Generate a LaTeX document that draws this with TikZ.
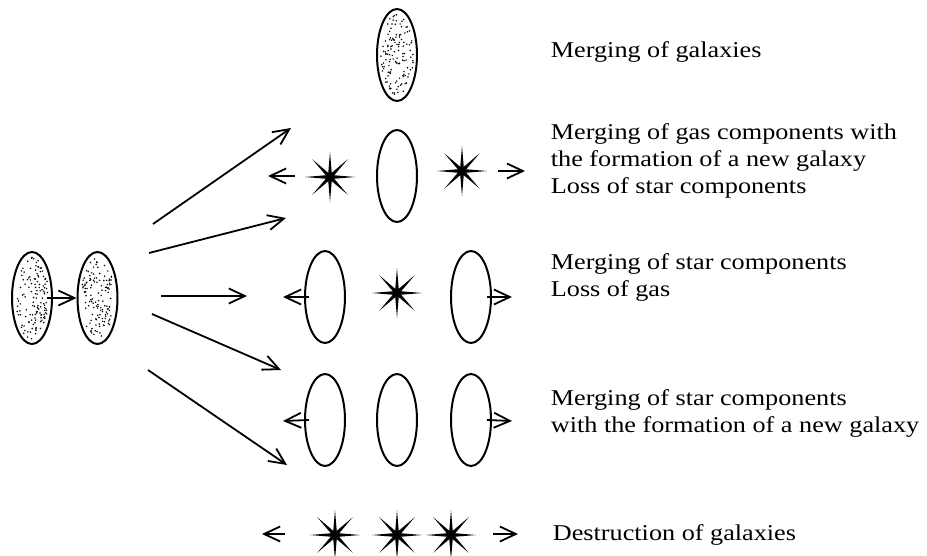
\documentclass[tikz,border=0pt]{standalone}
\usepackage{fontspec}
\setmainfont{Liberation Serif}[FakeStretch=1.16]
\usepackage{tikz}
\usetikzlibrary{arrows.meta,shapes.geometric}

% random dust inside a galaxy node
\newcommand{\galdots}[1]{%
  \foreach \i in {1,...,130}{%
    \pgfmathsetmacro{\rr}{sqrt(rnd)}%
    \pgfmathsetmacro{\aa}{360*rnd}%
    \pgfmathsetmacro{\dx}{\rr*8.2*cos(\aa)}%
    \pgfmathsetmacro{\dy}{\rr*20.5*sin(\aa)}%
    \fill ([shift={(\dx pt,\dy pt)}]#1.center) circle (0.42pt);
  }}

\begin{document}
\begin{tikzpicture}[x=0.5pt,y=-0.5pt,>={Straight Barb[length=8pt,width=7.5pt]},line width=0.9pt,
  gal/.style={ellipse,draw,line width=1pt,minimum width=20pt,minimum height=46pt,inner sep=0pt},
  bstar/.style={star,star points=8,star point ratio=5.5,fill=black,draw=none,minimum size=25pt,inner sep=0pt},
  lbl/.style={anchor=base west,inner sep=0pt,align=left,font=\fontsize{11.3}{13.5}\selectfont}]
\useasboundingbox (0,0) rectangle (927,556);
\pgfmathsetseed{17}
% two colliding galaxies
\node[gal] (g1) at (32,298) {};
\node[gal] (g2) at (97.5,298) {};
\galdots{g1}
\galdots{g2}
\draw[->] ([xshift=7.5pt]g1.center) -- (g2.west);
% fan of outcomes
\foreach \n/\ax/\ay/\bx/\by in {1/153/224/291/128, 2/149/253/286/218, 3/161/296/247/296,
    4/152/314/281/370, 5/148/370/287/465}{
  \coordinate (fs\n) at (\ax,\ay);
  \coordinate (fe\n) at (\bx,\by);
  \draw[->] (fs\n) -- (fe\n);
}
% row 1: merged galaxy
\node[gal] (m1) at (397,55) {};
\galdots{m1}
\node[lbl] (t1) at (550,58) {Merging of galaxies};
% row 2: gas merges, stars lost
\node[gal] (m2) at (397,176) {};
\node[bstar] (s2l) at (330,177) {};
\node[bstar] (s2r) at (462,171) {};
\coordinate (a2l) at (268,176);
\coordinate (b2l) at (295,176);
\coordinate (a2r) at (525,171);
\coordinate (b2r) at (498,171);
\draw[->] (b2l) -- (a2l);
\draw[->] (b2r) -- (a2r);
\node[lbl] (t2) at (550,193) {Merging of gas components with\\the formation of a new galaxy\\Loss of star components};
% row 3: stars merge, gas lost
\node[gal] (e3l) at (325,297) {};
\node[gal] (e3r) at (471,297) {};
\node[bstar] (s3) at (397,293) {};
\coordinate (a3l) at (283,297);
\coordinate (a3r) at (512,297);
\draw[->] ([xshift=2.5pt]e3l.west) -- (a3l);
\draw[->] ([xshift=-2.5pt]e3r.east) -- (a3r);
\node[lbl] (t3) at (550,296) {Merging of star components\\Loss of gas};
% row 4: stars merge into a new galaxy
\node[gal] (e4l) at (325,420) {};
\node[gal] (e4m) at (397,420) {};
\node[gal] (e4r) at (471,420) {};
\coordinate (a4l) at (283,421);
\coordinate (a4r) at (512,421);
\draw[->] ([xshift=2.5pt]e4l.west) -- (a4l);
\draw[->] ([xshift=-2.5pt]e4r.east) -- (a4r);
\node[lbl] (t4) at (550,432) {Merging of star components\\with the formation of a new galaxy};
% row 5: destruction
\foreach \x [count=\k] in {335,397,451} \node[bstar] (s5\k) at (\x,535) {};
\coordinate (a5l) at (262,534);
\coordinate (b5l) at (285,534);
\coordinate (a5r) at (518,534);
\coordinate (b5r) at (493,534);
\draw[->] (b5l) -- (a5l);
\draw[->] (b5r) -- (a5r);
\node[lbl] (t5) at (552,540) {Destruction of galaxies};
\end{tikzpicture}
\end{document}
